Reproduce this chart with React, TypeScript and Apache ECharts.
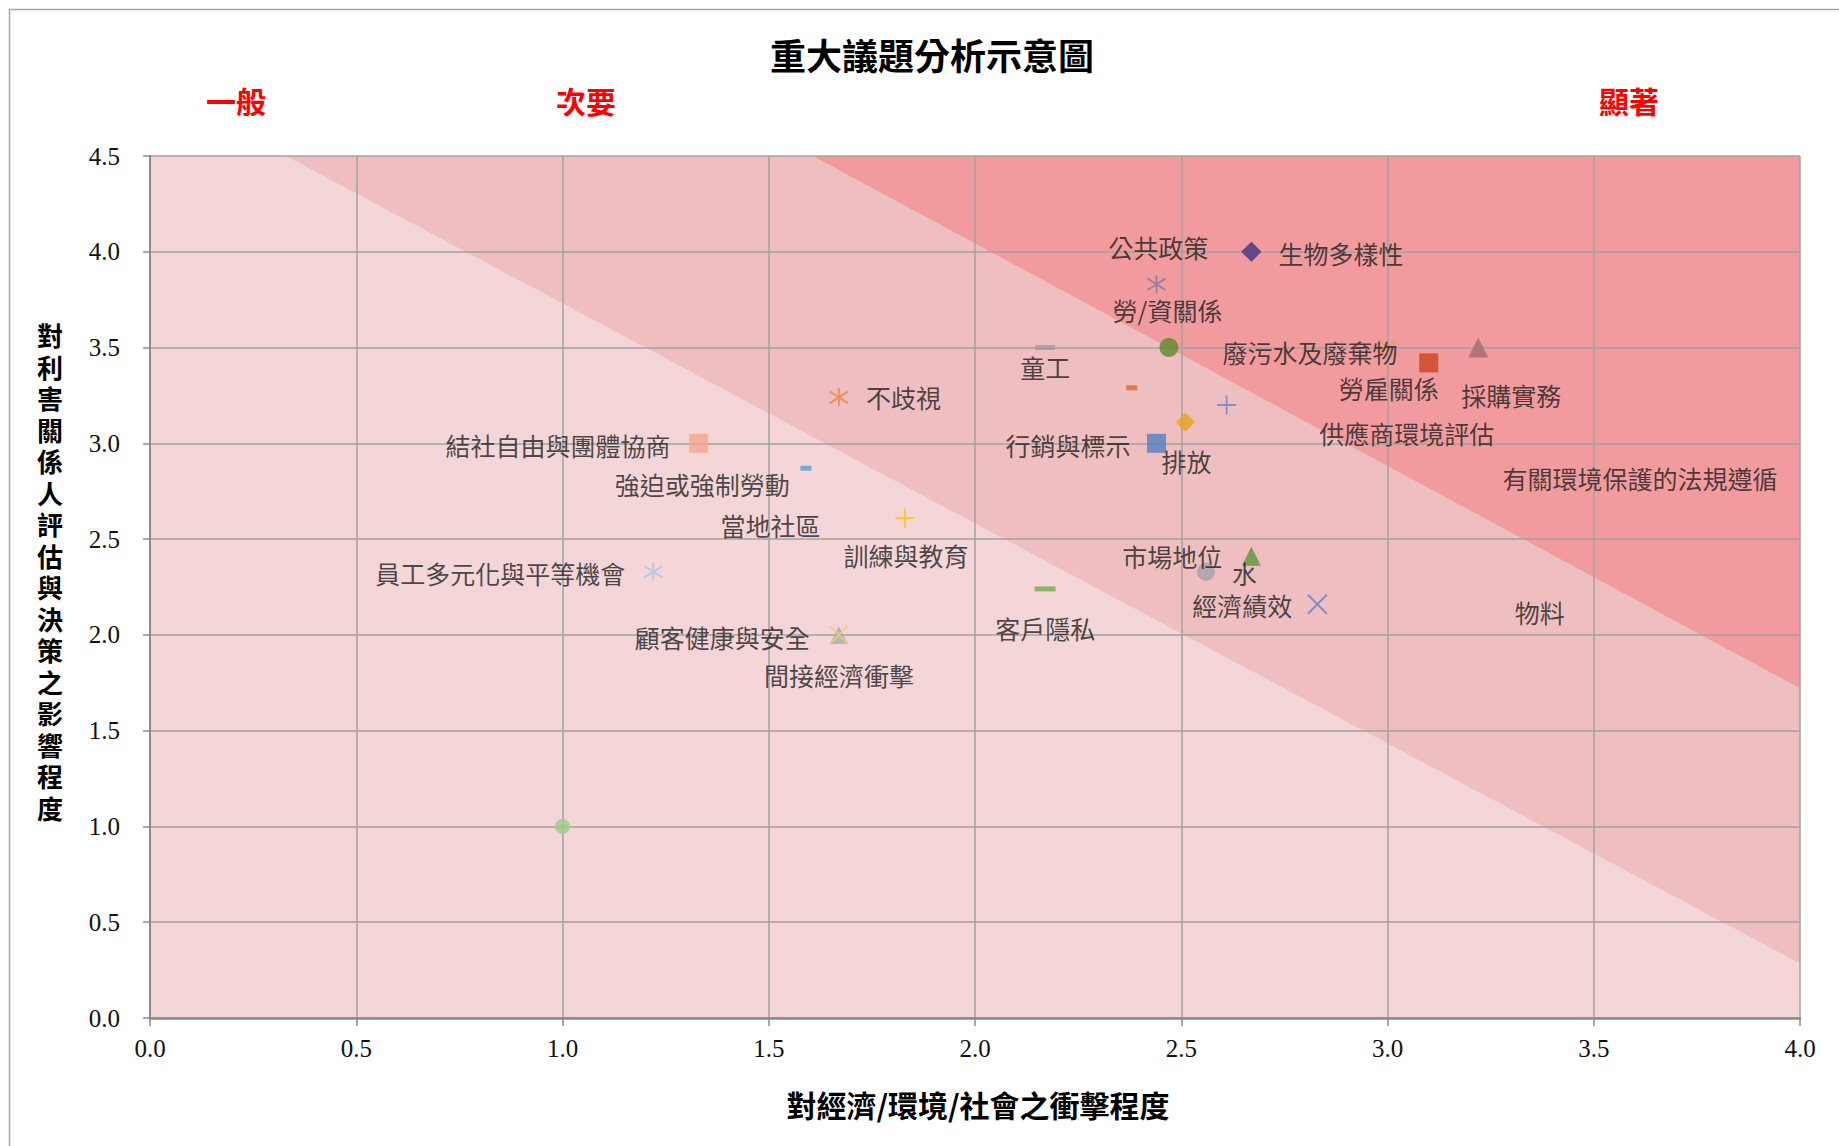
import React, { useEffect, useRef } from "react";
import * as echarts from "echarts";

// ---------- texts ----------
const TITLE = "重大議題分析示意圖";
const X_AXIS_NAME = "對經濟/環境/社會之衝擊程度";
const Y_AXIS_NAME = "對利害關係人評估與決策之影響程度";
const ZONE_LABELS = ["一般", "次要", "顯著"];

// ---------- axes ----------
const X_MIN = 0;
const X_MAX = 4;
const Y_MIN = 0;
const Y_MAX = 4.5;
const TICK_STEP = 0.5;

// ---------- data (topic, impact on economy/environment/society, influence on stakeholders) ----------
const topicNames = [
  "生物多樣性",
  "公共政策",
  "勞/資關係",
  "童工",
  "廢污水及廢棄物",
  "勞雇關係",
  "採購實務",
  "有關環境保護的法規遵循",
  "物料",
  "供應商環境評估",
  "排放",
  "行銷與標示",
  "不歧視",
  "結社自由與團體協商",
  "強迫或強制勞動",
  "訓練與教育",
  "員工多元化與平等機會",
  "市場地位",
  "水",
  "經濟績效",
  "客戶隱私",
  "間接經濟衝擊",
  "顧客健康與安全",
  "當地社區",
];
const impactValues = [
  2.67, 2.67, 2.44, 2.17, 3.0, 3.1, 3.22, 2.47, 2.38, 2.61, 2.51, 2.44, 1.67, 1.33, 1.59, 1.83, 1.22, 2.67,
  2.56, 2.83, 2.17, 1.67, 1.67, 1.0,
];
const influenceValues = [
  4.0, 4.0, 3.83, 3.5, 3.5, 3.42, 3.5, 3.5, 3.29, 3.2, 3.11, 3.0, 3.24, 3.0, 2.87, 2.61, 2.33, 2.41, 2.33,
  2.16, 2.24, 2.0, 2.0, 1.0,
];

// background bands (data space)
const baseBand = [
  [0, 0],
  [4, 0],
  [4, 4.5],
  [0, 4.5],
];
const midBand = [
  [0.33, 4.5],
  [4, 4.5],
  [4, 0.285],
];
const highBand = [
  [1.607, 4.5],
  [4, 4.5],
  [4, 1.721],
];

// ---------- styles ----------
const CJK = "'Noto Sans CJK TC', 'Noto Sans CJK SC', sans-serif";
const CJK_TIGHT = "'Liberation Serif', 'Noto Sans CJK TC', 'Noto Sans CJK SC', sans-serif";
const NUM = "'Liberation Serif', 'Times New Roman', serif";

const SYMBOL_PATHS: Record<string, string> = {
  x: "path://M0,0L10,10M10,0L0,10",
  plus: "path://M5,0L5,10M0,5L10,5",
  asterisk: "path://M5,0L5,10M1.2,1.8L8.8,8.2M1.2,8.2L8.8,1.8",
};

type Marker = { kind: string; size: number | number[]; color: string };
const markerStyles: Marker[] = [
  { kind: "diamond", size: 20, color: "#5F4488" },
  { kind: "diamond", size: 20, color: "#5F4488" },
  { kind: "asterisk", size: 18, color: "#7D77A8" },
  { kind: "rect", size: [20, 5], color: "#A09C9C" },
  { kind: "x", size: 16, color: "#F0A030" },
  { kind: "rect", size: 19, color: "#C9441D" },
  { kind: "triangle", size: 20, color: "#9D6B6E" },
  { kind: "circle", size: 19, color: "#5E8A30" },
  { kind: "rect", size: [11, 5], color: "#DD6A2A" },
  { kind: "plus", size: 19, color: "#6B7FC4" },
  { kind: "diamond", size: 19, color: "#E6A219" },
  { kind: "rect", size: 19, color: "#5182BF" },
  { kind: "asterisk", size: 18, color: "#EE8040" },
  { kind: "rect", size: 19, color: "#F3A68C" },
  { kind: "rect", size: [11, 5], color: "#5B9BD5" },
  { kind: "plus", size: 19, color: "#FFC000" },
  { kind: "asterisk", size: 18, color: "#A6C4EA" },
  { kind: "triangle", size: 19, color: "#5E9438" },
  { kind: "circle", size: 18, color: "#A3A3A3" },
  { kind: "x", size: 19, color: "#5C7FCC" },
  { kind: "rect", size: [21, 5], color: "#6FAD47" },
  { kind: "triangle", size: 18, color: "#A9ADB3" },
  { kind: "x", size: 18, color: "#F5CF6A" },
  { kind: "circle", size: 15, color: "#9CCC88" },
];

// label placement relative to the marker: [align, dx, dy] in pixels
const labelPlacement: [string, number, number][] = [
  ["left", 27, 1],
  ["right", -43, -5],
  ["center", 11, 26],
  ["center", 0, 19],
  ["right", 10, 4],
  ["center", -40, 25],
  ["center", 33, 47],
  ["center", 471, 130],
  ["center", 408, 224],
  ["center", 180, 28],
  ["center", 1, 39],
  ["right", -26, 2],
  ["left", 27, 0],
  ["right", -28, 2],
  ["right", -16, 16],
  ["center", 1, 37],
  ["right", -28, 1],
  ["right", -29, 0],
  ["left", 26, 1],
  ["right", -25, 1],
  ["center", 0, 39],
  ["center", 0, 40],
  ["right", -29, 2],
  ["right", 258, -301],
];

const W = 1839;
const H = 1146;

export default function App() {
  const ref = useRef<HTMLDivElement | null>(null);

  useEffect(() => {
    if (!ref.current) return;
    const chart = echarts.init(ref.current, null, { renderer: "svg", width: W, height: H });

    const bands = [
      { points: baseBand, color: "#F4D5D8" },
      { points: midBand, color: "#EFBEC0" },
      { points: highBand, color: "#F29B9F" },
    ];

    const scatterData = topicNames.map((name, i) => {
      const m = markerStyles[i];
      const isLine = SYMBOL_PATHS[m.kind] !== undefined;
      const [align, dx, dy] = labelPlacement[i];
      return {
        name,
        value: [impactValues[i], influenceValues[i]],
        symbol: isLine ? SYMBOL_PATHS[m.kind] : m.kind,
        symbolSize: m.size,
        itemStyle: isLine
          ? { color: "rgba(0,0,0,0)", borderColor: m.color, borderWidth: 1.8 }
          : { color: m.color, borderWidth: 0 },
        label: {
          show: true,
          formatter: "{b}",
          position: "inside",
          align,
          verticalAlign: "middle",
          offset: [dx, dy],
          color: "#1E1E1E",
          fontFamily: CJK,
          fontSize: 25,
          textBorderWidth: 0,
        },
      };
    });

    const zoneX = [236, 586, 1629];

    const yNameChars = Array.from(Y_AXIS_NAME);
    const yNameStep = 31.5;
    const yNameCenter = 574;
    const yNameTexts = yNameChars.map((ch, i) => ({
      type: "text",
      x: 50,
      y: yNameCenter + (i - (yNameChars.length - 1) / 2) * yNameStep,
      style: {
        text: ch,
        fontFamily: CJK_TIGHT,
        fontSize: 26,
        lineHeight: 28,
        fontWeight: "bold",
        fill: "#000",
        textAlign: "center",
        textVerticalAlign: "middle",
        align: "center",
        verticalAlign: "middle",
      },
    }));

    const option: any = {
      animation: false,
      backgroundColor: "#FFFFFF",
      grid: { left: 150, right: 39, top: 156, bottom: 128, containLabel: false },
      xAxis: {
        type: "value",
        min: X_MIN,
        max: X_MAX,
        interval: TICK_STEP,
        axisLine: { show: true, lineStyle: { color: "#8A8A8A", width: 2.5 } },
        axisTick: { show: true, inside: false, length: 8, lineStyle: { color: "#8A8A8A", width: 1.5 } },
        axisLabel: {
          margin: 18,
          formatter: (v: number) => v.toFixed(1),
          fontFamily: NUM,
          fontSize: 25,
          color: "#111",
        },
        splitLine: { show: true, lineStyle: { color: "#A3A0A0", width: 1.5 } },
      },
      yAxis: {
        type: "value",
        min: Y_MIN,
        max: Y_MAX,
        interval: TICK_STEP,
        axisLine: { show: true, lineStyle: { color: "#8A8A8A", width: 2 } },
        axisTick: { show: true, inside: false, length: 7, lineStyle: { color: "#8A8A8A", width: 1.5 } },
        axisLabel: {
          margin: 30,
          formatter: (v: number) => v.toFixed(1),
          fontFamily: NUM,
          fontSize: 25,
          color: "#111",
        },
        splitLine: { show: true, lineStyle: { color: "#A3A0A0", width: 1.5 } },
      },
      graphic: [
        {
          type: "rect",
          silent: true,
          shape: { x: 9.5, y: 9.5, width: 1900, height: 1200 },
          style: { fill: "none", stroke: "#A6A6A6", lineWidth: 1.5 },
        },
        {
          type: "text",
          x: 932,
          y: 54,
          style: {
            text: TITLE,
            fontFamily: CJK,
            fontSize: 36,
            fontWeight: "bold",
            fill: "#000",
            textAlign: "center",
            textVerticalAlign: "middle",
            align: "center",
            verticalAlign: "middle",
          },
        },
        ...ZONE_LABELS.map((t, i) => ({
          type: "text",
          x: zoneX[i],
          y: 100,
          style: {
            text: t,
            fontFamily: CJK,
            fontSize: 30,
            fontWeight: "bold",
            fill: "#FF0000",
            textAlign: "center",
            textVerticalAlign: "middle",
            align: "center",
            verticalAlign: "middle",
          },
        })),
        ...yNameTexts,
        {
          type: "text",
          x: 978,
          y: 1104,
          style: {
            text: X_AXIS_NAME,
            fontFamily: CJK,
            fontSize: 30,
            fontWeight: "bold",
            fill: "#000",
            textAlign: "center",
            textVerticalAlign: "middle",
            align: "center",
            verticalAlign: "middle",
          },
        },
      ],
      series: [
        {
          type: "custom",
          coordinateSystem: "cartesian2d",
          z: -1,
          silent: true,
          data: bands.map((_, i) => [i, 0]),
          renderItem: (params: any, api: any) => {
            const band = bands[params.dataIndex];
            const pts = band.points.map((p) => api.coord(p));
            return {
              type: "polygon",
              shape: { points: pts },
              style: { fill: band.color, stroke: "none" },
            };
          },
        },
        {
          type: "scatter",
          z: 3,
          data: scatterData,
        },
      ],
    };

    chart.setOption(option);
    return () => {
      chart.dispose();
    };
  }, []);

  return (
    <div
      ref={ref}
      style={{ position: "fixed", left: 0, top: 0, width: W, height: H, background: "#fff" }}
    />
  );
}
